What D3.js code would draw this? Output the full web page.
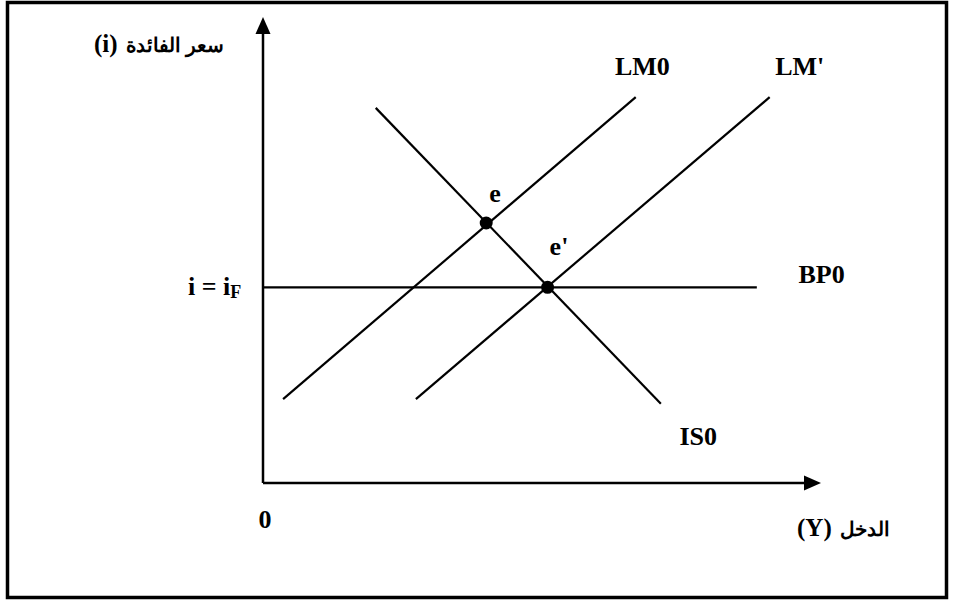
<!DOCTYPE html>
<html><head><meta charset="utf-8">
<script src="https://cdn.jsdelivr.net/npm/d3@7"></script>
<style>body{margin:0;background:#fff}svg{display:block}</style>
</head><body>
<svg id="c" width="954" height="603"></svg>
<script>
// Data (abstract units: income Y on x, interest rate i on y)
const LM0 = [[3.6, 18], [66.8, 82.8]];
const LMp = [[27.4, 18], [90.8, 82.8]];
const IS0 = [[20.2, 80.5], [71.3, 17]];
const BP0 = [[0, 42], [88.5, 42]];
const points = [{name: "e", x: 40, y: 55.8}, {name: "e'", x: 51, y: 42}];
const curveLabels = [
  {text: "LM0", x: 68.0, y: 87.5},
  {text: "LM'", x: 96.2, y: 87.5},
  {text: "BP0", x: 100.1, y: 42.9},
  {text: "IS0", x: 78.0, y: 8.2}
];
const yAxisLabel = ["سعر الفائدة", "(i)"];
const xAxisLabel = ["الدخل", "(Y)"];

const svg = d3.select("#c");
const x = d3.scaleLinear().domain([0, 100]).range([263, 821]);
const y = d3.scaleLinear().domain([0, 100]).range([483, 17]);

const font = "'Liberation Serif','Times New Roman','DejaVu Serif',serif";

// frame
svg.append("rect").attr("x", 7.5).attr("y", 2.5).attr("width", 939).attr("height", 595)
  .attr("fill", "none").attr("stroke", "#000").attr("stroke-width", 3.5);

// axes
svg.append("line").attr("x1", x(0)).attr("y1", y(0)).attr("x2", x(0)).attr("y2", y(96.5))
  .attr("stroke", "#000").attr("stroke-width", 2.5);
svg.append("line").attr("x1", x(0)).attr("y1", y(0)).attr("x2", x(97.3)).attr("y2", y(0))
  .attr("stroke", "#000").attr("stroke-width", 2.5);
// arrowheads
svg.append("path").attr("d", `M${x(0)},${y(100)} L${x(0)-7.5},${y(100)+17} L${x(0)+7.5},${y(100)+17} Z`).attr("fill", "#000");
svg.append("path").attr("d", `M${x(100)},${y(0)} L${x(100)-17},${y(0)-7.5} L${x(100)-17},${y(0)+7.5} Z`).attr("fill", "#000");

const line = d3.line().x(d => x(d[0])).y(d => y(d[1]));
[LM0, LMp, IS0, BP0].forEach(s => {
  svg.append("path").attr("d", line(s)).attr("fill", "none").attr("stroke", "#000").attr("stroke-width", 2.2);
});

svg.selectAll("circle.pt").data(points).join("circle").attr("class", "pt")
  .attr("cx", d => x(d.x)).attr("cy", d => y(d.y)).attr("r", 6.5).attr("fill", "#000");

// point labels
svg.append("text").attr("x", 495).attr("y", 202).attr("text-anchor", "middle")
  .attr("font-family", font).attr("font-weight", "bold").attr("font-size", 26).text(points[0].name);
svg.append("text").attr("x", 559).attr("y", 255).attr("text-anchor", "middle")
  .attr("font-family", font).attr("font-weight", "bold").attr("font-size", 26).text(points[1].name);

svg.selectAll("text.cl").data(curveLabels).join("text").attr("class", "cl")
  .attr("x", d => x(d.x)).attr("y", d => y(d.y)).attr("text-anchor", "middle")
  .attr("font-family", font).attr("font-weight", "bold").attr("font-size", 26)
  .text(d => d.text);

// i = iF
const t = svg.append("text").attr("x", 188).attr("y", y(42) + 8)
  .attr("font-family", font).attr("font-weight", "bold").attr("font-size", 26);
t.append("tspan").text("i = i");
t.append("tspan").attr("font-size", 18).attr("dy", 3).text("F");

// origin 0
svg.append("text").attr("x", x(0) + 2).attr("y", 528).attr("text-anchor", "middle")
  .attr("font-family", font).attr("font-weight", "bold").attr("font-size", 26).text("0");

// axis labels (Arabic part RTL + Latin symbol)
function axisLabel(parts, xRight, xLeft, yBase) {
  svg.append("text").attr("x", xRight).attr("y", yBase).attr("direction", "rtl").attr("text-anchor", "start")
    .attr("font-family", font).attr("font-weight", "bold").attr("font-size", 20).text(parts[0]);
  svg.append("text").attr("x", xLeft).attr("y", yBase).attr("text-anchor", "start")
    .attr("font-family", font).attr("font-weight", "bold").attr("font-size", 25).text(parts[1]);
}
axisLabel(yAxisLabel, 224, 94, 52);
axisLabel(xAxisLabel, 890, 797, 536);
</script>
</body></html>
